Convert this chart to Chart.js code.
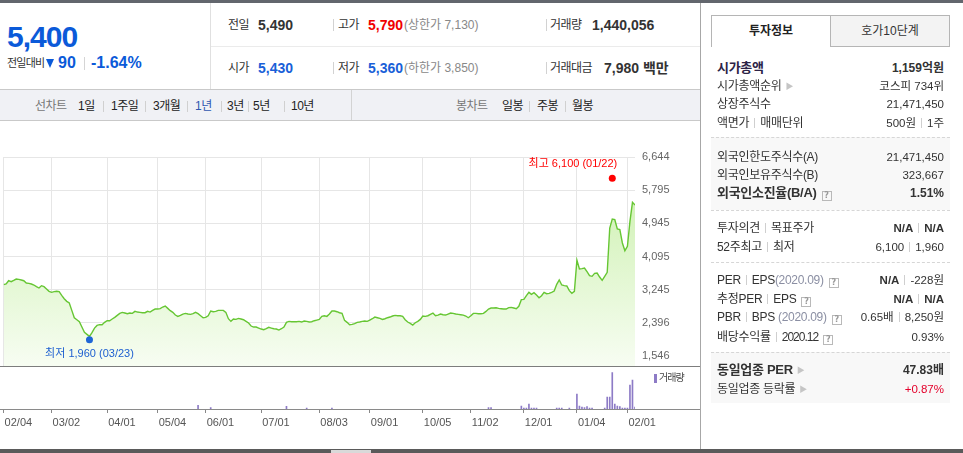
<!DOCTYPE html>
<html lang="ko">
<head>
<meta charset="utf-8">
<title>1년 선차트</title>
<script src="https://cdn.jsdelivr.net/npm/chart.js@4.4.1/dist/chart.umd.min.js"></script>
<style>
* { box-sizing: border-box; }
html, body { margin: 0; padding: 0; }
body { width: 963px; height: 453px; overflow: hidden; position: relative; background: #fff;
  font-family: 'Liberation Sans', 'Noto Sans CJK KR', sans-serif; color: #333; }
.a { position: absolute; white-space: nowrap; }
.lb { font-size: 12px; line-height: 16px; letter-spacing: -0.5px; color: #333; }
.v { font-size: 14px; line-height: 18px; font-weight: bold; color: #333; }
.gr { font-size: 12px; line-height: 16px; letter-spacing: 0; color: #888; }
.sep { position: absolute; width: 1px; height: 12px; background: #d2d2d2; }
.tb { font-size: 12px; line-height: 16px; letter-spacing: -0.5px; color: #222; top: 98px; }
.tsep { position: absolute; top: 101px; width: 1px; height: 11px; background: #d0d0d0; }
.r { position: absolute; left: 717px; width: 227px; height: 16px; line-height: 16px; font-size: 12px;
  display: flex; justify-content: space-between; white-space: nowrap; color: #333; letter-spacing: -0.3px; }
.r .n { font-size: 11.5px; letter-spacing: 0; }
.pp { display: inline-block; width: 1px; height: 10px; background: #cfcfcf; margin: 0 5px; vertical-align: -1px; }
.q { display: inline-block; width: 10px; height: 10px; border: 1px solid #b9b9b9; font: bold 8px/8px 'DejaVu Sans', sans-serif;
  color: #999; text-align: center; font-style: normal; margin-left: 5px; vertical-align: -1px; }
.ar { color: #c5c5c5; font-size: 8px; margin-left: 4px; vertical-align: 1px; }
.dash { position: absolute; left: 711px; width: 239px; height: 0; border-top: 1px dashed #d6d6d6; }
.shade { position: absolute; left: 711px; width: 239px; background: #f8f8f8; }
.blue { color: #1a5fd8; }
.red { color: #f00000; }
</style>
</head>
<body>

<!-- top strip -->
<div class="a" style="left:0;top:0;width:963px;height:3px;background:#62666d"></div>

<!-- 현재가 -->
<div class="a" style="left:7px;top:22px;font:bold 30px/30px 'Liberation Sans',sans-serif;letter-spacing:-1px;color:#0b5ad9">5,400</div>
<div class="a" style="left:7px;top:55px;font-size:11px;line-height:16px;letter-spacing:-0.8px;color:#333">전일대비</div>
<div class="a" style="left:46px;top:59px;width:0;height:0;border-left:4.5px solid transparent;border-right:4.5px solid transparent;border-top:9px solid #0b5ad9"></div>
<div class="a" style="left:58px;top:54px;font-size:16px;line-height:18px;font-weight:bold;color:#0b5ad9">90</div>
<div class="a" style="left:84px;top:57px;width:1px;height:13px;background:#d5d5d5"></div>
<div class="a" style="left:91px;top:54px;font-size:16px;line-height:18px;font-weight:bold;color:#0b5ad9">-1.64%</div>
<div class="a" style="left:210px;top:3px;width:1px;height:86px;background:#e0e0e0"></div>
<div class="a" style="left:211px;top:46px;width:489px;height:1px;background:#ebebeb"></div>

<!-- 시세 1행 -->
<div class="a lb" style="left:228px;top:17px">전일</div>
<div class="a v" style="left:258px;top:16px">5,490</div>
<div class="sep" style="left:333px;top:19px"></div>
<div class="a lb" style="left:338px;top:17px">고가</div>
<div class="a v red" style="left:368px;top:16px">5,790</div>
<div class="a gr" style="left:404px;top:17px">(상한가 7,130)</div>
<div class="sep" style="left:546px;top:19px"></div>
<div class="a lb" style="left:550px;top:17px">거래량</div>
<div class="a v" style="left:592px;top:16px">1,440,056</div>
<!-- 시세 2행 -->
<div class="a lb" style="left:228px;top:60px">시가</div>
<div class="a v blue" style="left:258px;top:59px">5,430</div>
<div class="sep" style="left:333px;top:62px"></div>
<div class="a lb" style="left:338px;top:60px">저가</div>
<div class="a v blue" style="left:368px;top:59px">5,360</div>
<div class="a gr" style="left:404px;top:60px">(하한가 3,850)</div>
<div class="sep" style="left:546px;top:62px"></div>
<div class="a lb" style="left:550px;top:60px">거래대금</div>
<div class="a v" style="left:604px;top:59px">7,980 백만</div>

<!-- 차트 탭 -->
<div class="a" style="left:0;top:89px;width:700px;height:32px;background:#f0f1f5;border-top:1px solid #c9c9c9;border-bottom:1px solid #c9c9c9"></div>
<div class="a" style="left:351px;top:90px;width:1px;height:30px;background:#d3d3d3"></div>
<div class="a tb" style="left:35px;color:#777">선차트</div>
<div class="a tb" style="left:78px">1일</div><div class="tsep" style="left:103px"></div>
<div class="a tb" style="left:111px">1주일</div><div class="tsep" style="left:145px"></div>
<div class="a tb" style="left:153px">3개월</div><div class="tsep" style="left:187px"></div>
<div class="a tb" style="left:195px;color:#2f57b0">1년</div><div class="tsep" style="left:221px"></div>
<div class="a tb" style="left:227px">3년</div><div class="tsep" style="left:248px"></div>
<div class="a tb" style="left:253px">5년</div><div class="tsep" style="left:284px"></div>
<div class="a tb" style="left:291px">10년</div>
<div class="a tb" style="left:456px;color:#777">봉차트</div>
<div class="a tb" style="left:502px">일봉</div><div class="tsep" style="left:529px"></div>
<div class="a tb" style="left:537px">주봉</div><div class="tsep" style="left:565px"></div>
<div class="a tb" style="left:572px">월봉</div>

<!-- 차트 -->
<div class="a" style="left:0;top:121px;width:700px;height:245px"><canvas id="chartPrice"></canvas></div>
<div class="a" style="left:0;top:366px;width:700px;height:1px;background:#7d7d7d"></div>
<div class="a" style="left:0;top:367px;width:700px;height:83px"><canvas id="chartVolume"></canvas></div>
<div class="a" style="left:0;top:409px;width:700px;height:1px;background:#8a8a8a"></div>
<div class="a" style="left:654px;top:374px;width:3px;height:9px;background:#8d7bc6"></div>
<div class="a" style="left:659px;top:372px;font-size:10px;line-height:12px;letter-spacing:-1px;color:#444">거래량</div>

<!-- 하단 바 -->
<div class="a" style="left:0;top:449px;width:963px;height:4px;background:#5a5a5a"></div>
<div class="a" style="left:331px;top:450px;width:40px;height:3px;background:#d9d9d9"></div>

<!-- 투자정보 패널 -->
<div class="a" style="left:700px;top:3px;width:1px;height:446px;background:#a7a7a7"></div>
<div class="a" style="left:711px;top:15px;width:120px;height:32px;border:1px solid #b5b5b5;border-bottom:none;background:#fff;text-align:center;font-weight:bold;font-size:12px;line-height:30px;color:#222">투자정보</div>
<div class="a" style="left:830px;top:15px;width:120px;height:32px;border:1px solid #b5b5b5;background:#f3f3f3;text-align:center;font-size:12px;line-height:30px;color:#333">호가10단계</div>

<div class="shade" style="top:137px;height:73px"></div>
<div class="shade" style="top:352px;height:51px"></div>
<div class="dash" style="top:137px"></div>
<div class="dash" style="top:210px"></div>
<div class="dash" style="top:262px"></div>
<div class="dash" style="top:352px"></div>

<div class="r" style="top:60px"><b style="font-size:13px;color:#2d2346">시가총액</b><b class="n" style="font-size:12px">1,159억원</b></div>
<div class="r" style="top:78px"><span>시가총액순위<span class="ar">▶</span></span><span class="n">코스피 734위</span></div>
<div class="r" style="top:96px"><span>상장주식수</span><span class="n">21,471,450</span></div>
<div class="r" style="top:115px"><span>액면가<i class="pp"></i>매매단위</span><span class="n">500원<i class="pp"></i>1주</span></div>

<div class="r" style="top:149px"><span>외국인한도주식수(A)</span><span class="n">21,471,450</span></div>
<div class="r" style="top:167px"><span>외국인보유주식수(B)</span><span class="n">323,667</span></div>
<div class="r" style="top:185px"><b style="font-size:13px">외국인소진율(B/A)<i class="q">?</i></b><b class="n" style="font-size:12px">1.51%</b></div>

<div class="r" style="top:220px"><span>투자의견<i class="pp"></i>목표주가</span><span class="n"><b>N/A</b><i class="pp"></i><b>N/A</b></span></div>
<div class="r" style="top:239px"><span>52주최고<i class="pp"></i>최저</span><span class="n">6,100<i class="pp"></i>1,960</span></div>

<div class="r" style="top:272px"><span>PER<i class="pp"></i>EPS<span style="color:#8b8fa3">(2020.09)</span><i class="q">?</i></span><span class="n"><b>N/A</b><i class="pp"></i>-228원</span></div>
<div class="r" style="top:291px"><span>추정PER<i class="pp"></i>EPS<i class="q">?</i></span><span class="n"><b>N/A</b><i class="pp"></i><b>N/A</b></span></div>
<div class="r" style="top:309px"><span>PBR<i class="pp"></i>BPS <span style="color:#8b8fa3">(2020.09)</span><i class="q">?</i></span><span class="n">0.65배<i class="pp"></i>8,250원</span></div>
<div class="r" style="top:329px"><span>배당수익률<i class="pp"></i><span style="letter-spacing:-1px">2020.12</span><i class="q">?</i></span><span class="n">0.93%</span></div>

<div class="r" style="top:362px"><b style="font-size:13px">동일업종 PER<span class="ar">▶</span></b><b class="n" style="font-size:12px">47.83배</b></div>
<div class="r" style="top:381px"><span>동일업종 등락률<span class="ar">▶</span></span><span class="n" style="color:#e4002b">+0.87%</span></div>

<script>
// ===== 1년 선차트 — 종가 · 거래량 =====

// 일별 종가 (02/04 ~ 02/04, 거래일 기준)
const close = [
  3373, 3391, 3475, 3450, 3483, 3518, 3509, 3492, 3475, 3416,
  3407, 3391, 3365, 3322, 3288, 3347, 3322, 3262, 3203, 3177,
  3194, 3203, 3194, 3100, 3014, 2946, 2903, 2715, 2527, 2476,
  2425, 2288, 2151, 2100, 2048, 2143, 2262, 2330, 2348, 2348,
  2408, 2450, 2450, 2493, 2535, 2586, 2638, 2664, 2647, 2630,
  2647, 2638, 2690, 2672, 2664, 2655, 2655, 2690, 2672, 2715,
  2749, 2749, 2758, 2801, 2826, 2766, 2707, 2664, 2596, 2561,
  2587, 2621, 2638, 2621, 2613, 2630, 2664, 2630, 2578, 2527,
  2536, 2578, 2698, 2681, 2690, 2715, 2715, 2715, 2664, 2502,
  2433, 2493, 2485, 2510, 2493, 2476, 2433, 2391, 2314, 2288,
  2288, 2262, 2237, 2220, 2245, 2280, 2262, 2245, 2237, 2211,
  2245, 2288, 2408, 2433, 2425, 2425, 2425, 2433, 2416, 2442,
  2433, 2416, 2425, 2450, 2467, 2485, 2561, 2578, 2561, 2621,
  2698, 2698, 2681, 2655, 2638, 2459, 2408, 2348, 2357, 2374,
  2408, 2416, 2433, 2442, 2433, 2467, 2501, 2544, 2527, 2510,
  2484, 2501, 2527, 2544, 2570, 2587, 2578, 2578, 2561, 2476,
  2416, 2382, 2339, 2399, 2433, 2484, 2570, 2561, 2578, 2612,
  2647, 2578, 2595, 2621, 2604, 2595, 2621, 2647, 2638, 2621,
  2612, 2604, 2595, 2570, 2527, 2578, 2638, 2638, 2630, 2630,
  2638, 2689, 2749, 2775, 2775, 2783, 2766, 2758, 2750, 2750,
  2784, 2792, 2775, 2758, 2818, 2989, 2997, 3091, 3177, 3126,
  3168, 3108, 3040, 3091, 3177, 3143, 3151, 3177, 3211, 3382,
  3493, 3365, 3348, 3339, 3219, 3151, 3202, 4003, 3774, 3783,
  3800, 3706, 3604, 3587, 3664, 3672, 3569, 3484, 3587, 3689,
  4825, 5055, 5038, 4799, 4782, 4441, 4244, 4355, 4996, 5482,
  5414
];

// x축 날짜 눈금 (거래일 인덱스)
const tickIdx    = [0, 19, 41, 61, 80, 102, 125, 145, 166, 185, 206, 227, 247];
const tickLabels = ['02/04', '03/02', '04/01', '05/04', '06/01', '07/01', '08/03',
                    '09/01', '10/05', '11/02', '12/01', '01/04', '02/01'];
// y축 가격 눈금
const yTicks = [1546, 2396, 3245, 4095, 4945, 5795, 6644];

// 52주 최고 / 최저
const hiIdx = 241, hiVal = 6100, hiDate = '01/22';
const loIdx = 34,  loVal = 1960, loDate = '03/23';

// 거래량 (천주) — 눈에 보이는 날만
const volIdx = [77, 82, 112, 120, 130, 192, 193, 205, 206, 207, 208, 209, 210, 211,
                219, 220, 221, 224, 227, 228, 229, 230, 231, 232, 233, 238, 239, 240,
                241, 242, 243, 244, 245, 246, 247, 248, 249, 250];
const volK   = [2640, 960, 1920, 720, 720, 960, 960, 2160, 720, 720, 3600, 720, 720, 720,
                720, 720, 720, 720, 10800, 2160, 1440, 960, 1680, 720, 720, 720, 8640, 8640,
                26160, 3600, 2160, 1680, 720, 720, 720, 17280, 20880, 1440];

const FONT = "'Liberation Sans', 'Noto Sans CJK KR', sans-serif";
const xLast = close.length - 1;
Chart.defaults.font.family = FONT;

// 축 라벨 여백이 차트 영역을 줄이지 않도록
const noPad = s => { s.paddingLeft = 0; s.paddingRight = 0; s.paddingTop = 0; s.paddingBottom = 0; };

const pluginMarkText = {
  id: 'markText',
  afterDatasetsDraw(chart) {
    if (chart.canvas.id !== 'chartPrice') return;
    const { ctx, scales: { x, y } } = chart;
    ctx.save();
    ctx.font = `11px ${FONT}`;
    ctx.textBaseline = 'middle';
    ctx.fillStyle = '#ff0000';
    ctx.textAlign = 'right';
    ctx.fillText(`최고 ${hiVal.toLocaleString('en-US')} (${hiDate})`,
      x.getPixelForValue(hiIdx) + 5, y.getPixelForValue(hiVal) - 14);
    ctx.fillStyle = '#1d5fd0';
    ctx.textAlign = 'center';
    ctx.fillText(`최저 ${loVal.toLocaleString('en-US')} (${loDate})`,
      x.getPixelForValue(loIdx), y.getPixelForValue(loVal) + 14);
    ctx.restore();
  }
};

// ===== CHART 1 — 종가 라인 =====
(function() {
  const el = document.getElementById('chartPrice');
  if (!el) return;
  new Chart(el, {
    type: 'line',
    data: {
      datasets: [
        {
          data: [{ x: hiIdx, y: hiVal }],
          showLine: false, pointRadius: 3.5, pointBorderWidth: 0,
          pointBackgroundColor: '#ff0000', order: 0
        },
        {
          data: [{ x: loIdx, y: loVal }],
          showLine: false, pointRadius: 3.5, pointBorderWidth: 0,
          pointBackgroundColor: '#1f66d6', order: 0
        },
        {
          data: close.map((v, i) => ({ x: i, y: v })),
          borderColor: '#66c633', borderWidth: 1.4,
          pointRadius: 0, tension: 0, order: 1,
          fill: 'start',
          backgroundColor(c) {
            const { ctx, chartArea } = c.chart;
            if (!chartArea) return 'rgba(200,239,168,0.5)';
            const g = ctx.createLinearGradient(0, chartArea.top, 0, chartArea.bottom);
            g.addColorStop(0, '#c8efa8');
            g.addColorStop(1, '#f7fdf2');
            return g;
          }
        }
      ]
    },
    plugins: [pluginMarkText],
    options: {
      responsive: true, maintainAspectRatio: false, animation: false,
      layout: { autoPadding: false, padding: { left: 3.6, top: 36, right: 0, bottom: 0 } },
      plugins: { legend: { display: false }, tooltip: { enabled: false } },
      scales: {
        x: {
          type: 'linear', min: 0, max: xLast, offset: false,
          afterBuildTicks: s => { s.ticks = tickIdx.map(v => ({ value: v })); },
          afterFit: s => { s.height = 0; noPad(s); },
          grid: { color: '#e6e6e6', drawTicks: false },
          border: { display: false },
          ticks: { display: false, autoSkip: false }
        },
        y: {
          position: 'right', min: 1290, max: 6644,
          afterBuildTicks: s => { s.ticks = yTicks.map(v => ({ value: v })); },
          afterFit: s => { s.width = 65; noPad(s); },
          grid: { color: '#e6e6e6', drawTicks: false },
          border: { display: false },
          ticks: {
            color: '#666', padding: 7, autoSkip: false,
            font: { size: 11 },
            callback: v => v.toLocaleString('en-US')
          }
        }
      }
    }
  });
})();

// ===== CHART 2 — 거래량 막대 =====
(function() {
  const el = document.getElementById('chartVolume');
  if (!el) return;
  new Chart(el, {
    type: 'bar',
    data: {
      datasets: [{
        data: volIdx.map((d, i) => ({ x: d, y: volK[i] })),
        backgroundColor: '#8d7bc6',
        barThickness: 1
      }]
    },
    options: {
      responsive: true, maintainAspectRatio: false, animation: false,
      layout: { autoPadding: false, padding: { left: 3.6, top: 3, right: 65, bottom: 0 } },
      plugins: { legend: { display: false }, tooltip: { enabled: false } },
      scales: {
        x: {
          type: 'linear', min: 0, max: xLast, offset: false,
          afterBuildTicks: s => { s.ticks = tickIdx.map(v => ({ value: v })); },
          afterFit: s => { s.height = 41; noPad(s); },
          grid: { offset: false, drawOnChartArea: false, drawTicks: true, tickLength: 4, color: '#888' },
          border: { display: false },
          ticks: {
            align: 'start', labelOffset: 1, padding: 3,
            maxRotation: 0, autoSkip: false,
            color: '#555', font: { size: 11 },
            callback: (v, i) => tickLabels[i]
          }
        },
        y: { display: false, min: 0, max: 28100 }
      }
    }
  });
})();
</script>
</body>
</html>
